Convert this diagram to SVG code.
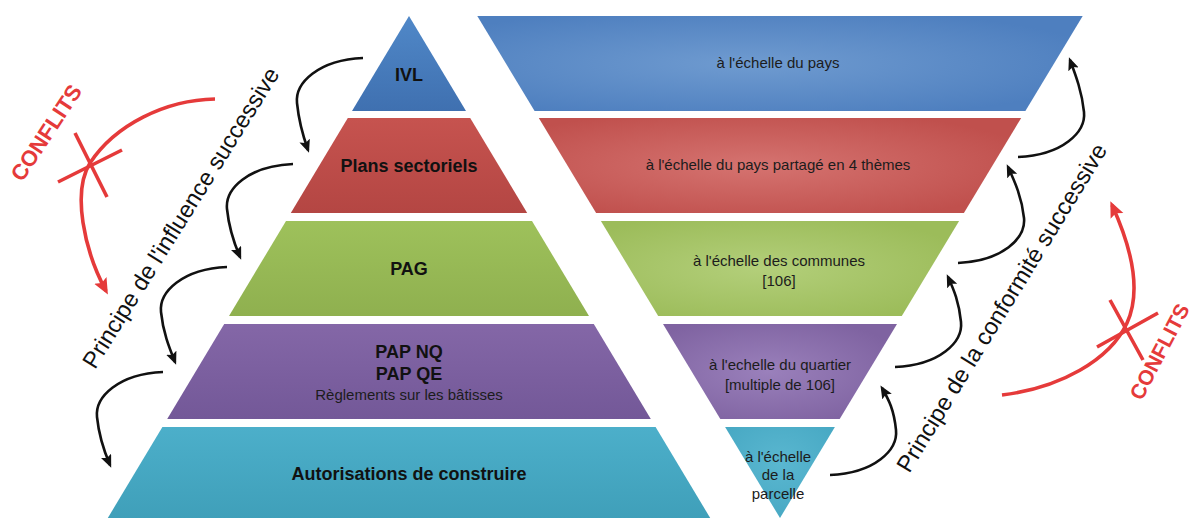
<svg xmlns="http://www.w3.org/2000/svg" width="1194" height="518" viewBox="0 0 1194 518">
<style>
.lbl{font-family:"Liberation Sans",Arial,sans-serif;font-weight:bold;font-size:18px;fill:#111;text-anchor:middle}
.sub{font-family:"Liberation Sans",Arial,sans-serif;font-size:15px;fill:#1c1c1c;text-anchor:middle}
.rot{font-family:"Liberation Sans",Arial,sans-serif;font-size:23.5px;fill:#111;text-anchor:middle}
.conf{font-family:"Liberation Sans",Arial,sans-serif;font-weight:bold;font-size:22px;fill:#e53a3a;text-anchor:middle}
.arr{fill:none;stroke:#111;stroke-width:2.6}
.red{fill:none;stroke:#e53a3a;stroke-width:3.6}
</style>
<defs>
<linearGradient id="gBlueL" x1="0" y1="0" x2="0" y2="1"><stop offset="0" stop-color="#5088c8"/><stop offset="1" stop-color="#3f70b0"/></linearGradient>
<linearGradient id="gRedL" x1="0" y1="0" x2="0" y2="1"><stop offset="0" stop-color="#c6534f"/><stop offset="1" stop-color="#b44643"/></linearGradient>
<linearGradient id="gGreenL" x1="0" y1="0" x2="0" y2="1"><stop offset="0" stop-color="#9ec15b"/><stop offset="1" stop-color="#8fb04f"/></linearGradient>
<linearGradient id="gPurpL" x1="0" y1="0" x2="0" y2="1"><stop offset="0" stop-color="#8467a7"/><stop offset="1" stop-color="#735898"/></linearGradient>
<linearGradient id="gCyanL" x1="0" y1="0" x2="0" y2="1"><stop offset="0" stop-color="#4cafca"/><stop offset="1" stop-color="#3f9fb9"/></linearGradient>
<radialGradient id="gBlueR" cx="0.45" cy="0.5" r="0.6"><stop offset="0" stop-color="#6f9bd0"/><stop offset="1" stop-color="#4e7fbf"/></radialGradient>
<radialGradient id="gRedR" cx="0.45" cy="0.5" r="0.6"><stop offset="0" stop-color="#d57370"/><stop offset="1" stop-color="#c0504d"/></radialGradient>
<radialGradient id="gGreenR" cx="0.45" cy="0.5" r="0.6"><stop offset="0" stop-color="#b3cf7a"/><stop offset="1" stop-color="#9cbc5a"/></radialGradient>
<radialGradient id="gPurpR" cx="0.45" cy="0.5" r="0.6"><stop offset="0" stop-color="#9a80bb"/><stop offset="1" stop-color="#7f63a1"/></radialGradient>
<radialGradient id="gCyanR" cx="0.5" cy="0.4" r="0.6"><stop offset="0" stop-color="#5ab7d0"/><stop offset="1" stop-color="#48a9c4"/></radialGradient>
<marker id="ah" markerUnits="userSpaceOnUse" markerWidth="14" markerHeight="12" refX="10" refY="5.5" orient="auto"><path d="M0,0 L13,5.5 L0,11 L2.5,5.5 z" fill="#111"/></marker>
<marker id="ahr" markerUnits="userSpaceOnUse" markerWidth="17" markerHeight="15" refX="12" refY="7" orient="auto"><path d="M0,0 L16,7 L0,14 L3,7 z" fill="#e53a3a"/></marker>
</defs>
<rect width="1194" height="518" fill="#fff"/>

<g id="left-pyramid">
<g id="ivl"><polygon points="409,16 466,111 352,111" fill="url(#gBlueL)"/><text class="lbl" x="409" y="81">IVL</text></g>
<g id="plans-sectoriels"><polygon points="347.8,118 470.2,118 527.2,213 290.8,213" fill="url(#gRedL)"/><text class="lbl" x="409" y="172">Plans sectoriels</text></g>
<g id="pag"><polygon points="286,221 532,221 589,316 229,316" fill="url(#gGreenL)"/><text class="lbl" x="409" y="275">PAG</text></g>
<g id="pap"><polygon points="224.2,324 593.8,324 650.8,419 167.2,419" fill="url(#gPurpL)"/><text class="lbl" x="409" y="358">PAP NQ</text><text class="lbl" x="409" y="380">PAP QE</text><text class="sub" x="409" y="400">Règlements sur les bâtisses</text></g>
<g id="autorisations"><polygon points="162.4,427 655.6,427 711.4,520 106.6,520" fill="url(#gCyanL)"/><text class="lbl" x="409" y="480">Autorisations de construire</text></g>
</g>

<g id="right-pyramid">
<g id="pays"><polygon points="477.3,16 1082.7,16 1025.4,111 534.6,111" fill="url(#gBlueR)"/><text class="sub" x="778" y="68">à l'échelle du pays</text></g>
<g id="pays-themes"><polygon points="538.8,118 1021.2,118 963.9,213 596.1,213" fill="url(#gRedR)"/><text class="sub" x="778" y="170">à l'échelle du pays partagé en 4 thèmes</text></g>
<g id="communes"><polygon points="600.9,221 959.1,221 901.8,316 658.2,316" fill="url(#gGreenR)"/><text class="sub" x="779" y="266">à l'échelle des communes</text><text class="sub" x="779" y="286">[106]</text></g>
<g id="quartier"><polygon points="663,324 897,324 839.7,419 720.3,419" fill="url(#gPurpR)"/><text class="sub" x="780" y="370">à l'echelle du quartier</text><text class="sub" x="780" y="390">[multiple de 106]</text></g>
<g id="parcelle"><polygon points="725.1,427 834.9,427 780,518" fill="url(#gCyanR)"/><text class="sub" x="778" y="462">à l'échelle</text><text class="sub" x="778" y="480">de la</text><text class="sub" x="778" y="499">parcelle</text></g>
</g>

<g id="labels">
<text class="rot" x="187.5" y="222" transform="rotate(-58 187.5 222)">Principe de l'influence successive</text>
<text class="rot" x="1008.5" y="312" transform="rotate(-58.5 1008.5 312)">Principe de la conformité successive</text>
<text class="conf" x="52.6" y="136.8" transform="rotate(-56.6 52.6 136.8)">CONFLITS</text>
<text class="conf" x="1166" y="355" transform="rotate(-62.4 1166 355)" style="font-size:21px">CONFLITS</text>
</g>

<g id="connectors">
<path class="arr" marker-end="url(#ah)" d="M363,58 C318,60 295,83 297,103 C299,123 303,136 308,150"/>
<path class="arr" marker-end="url(#ah)" d="M293,164 C248,166 225,189 227,209 C229,229 234,243 240,257"/>
<path class="arr" marker-end="url(#ah)" d="M227,267 C182,269 159,292 161,312 C163,332 169,347 175,362"/>
<path class="arr" marker-end="url(#ah)" d="M163,372 C118,374 95,397 97,417 C99,437 104,451 110,465"/>
<path class="arr" marker-end="url(#ah)" d="M830,475 C875,473 898,450 896,430 C894,410 889,400 882,388"/>
<path class="arr" marker-end="url(#ah)" d="M895,367 C940,365 963,342 961,322 C959,302 954,290 948,277"/>
<path class="arr" marker-end="url(#ah)" d="M958,263 C1003,261 1026,238 1024,218 C1022,198 1015,182 1008,167"/>
<path class="arr" marker-end="url(#ah)" d="M1018,157 C1063,155 1086,132 1084,112 C1082,92 1076,76 1070,60"/>
<path class="red" marker-end="url(#ahr)" d="M215,99 C165,100 115,125 90,163 C72,192 84,250 106,291"/>
<path class="red" d="M75,133 L107,197 M58,182 L122,150"/>
<path class="red" marker-end="url(#ahr)" d="M1002,395 C1060,388 1110,360 1127,323 C1143,288 1128,240 1112,205"/>
<path class="red" d="M1110,300 L1143,360 M1097,347 L1158,313"/>
</g>
</svg>
